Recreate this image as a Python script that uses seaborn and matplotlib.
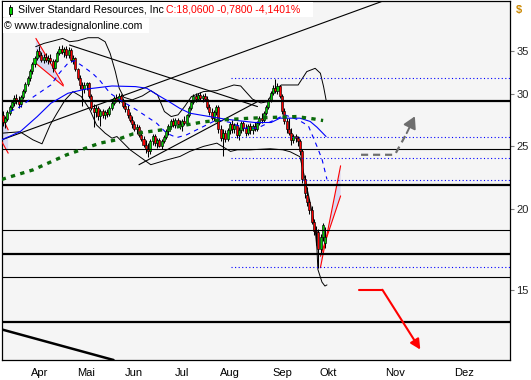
import matplotlib
matplotlib.use("Agg")
import matplotlib.pyplot as plt
import numpy as np
import seaborn as sns
from matplotlib.lines import Line2D
from matplotlib.patches import Polygon, Rectangle
from matplotlib.ticker import NullLocator
from matplotlib.transforms import blended_transform_factory

# x = bar number: 0 is 16 Mar 2011, one step per trading day up to the last bar
# (6 Oct), one step per calendar day in the projection area after it.
OPEN = [
    27.9, 27.2, 27.5, 28.1, 28.7, 29.1, 29.6, 29.3, 29.0, 29.7,
    30.4, 31.1, 31.8, 32.6, 33.4, 34.2, 35.0, 34.5, 33.9, 34.3,
    33.9, 34.2, 33.8, 33.0, 33.8, 34.8, 35.3, 34.9, 35.2, 34.5,
    35.1, 33.9, 34.2, 32.8, 31.8, 31.0, 30.6, 31.0, 31.2, 29.8,
    28.6, 28.2, 28.6, 27.8, 28.3, 27.9, 28.2, 28.0, 28.6, 29.1,
    29.6, 29.4, 29.8, 29.4, 28.8, 28.5, 27.9, 27.4, 27.0, 26.5,
    26.7, 26.0, 25.6, 25.1, 24.7, 24.5, 25.4, 25.9, 25.2, 25.5,
    25.0, 25.4, 25.8, 26.3, 26.8, 27.3, 26.9, 27.4, 27.0, 26.8,
    27.3, 27.1, 27.9, 28.6, 29.2, 29.8, 29.5, 29.9, 29.6, 29.8,
    29.5, 28.7, 28.2, 27.6, 28.2, 28.7, 26.5, 25.7, 26.2, 25.6,
    26.4, 27.0, 26.5, 26.9, 26.0, 26.4, 27.1, 26.6, 26.2, 26.8,
    26.4, 26.8, 26.5, 27.1, 27.6, 27.4, 28.1, 28.7, 29.4, 30.2,
    30.7, 30.4, 30.9, 29.8, 28.3, 27.3, 26.5, 26.2, 25.5, 25.9,
    25.7, 25.4, 24.5, 22.2, 21.0, 20.5, 19.9, 19.1, 18.5, 18.4,
    17.3, 18.1, 17.7,
]
HIGH = [
    28.3, 27.8, 28.4, 28.9, 29.4, 29.9, 30.0, 29.8, 29.9, 30.6,
    31.3, 32.0, 32.8, 33.6, 34.4, 35.3, 35.6, 34.9, 34.6, 34.8,
    34.5, 34.6, 34.0, 34.0, 35.0, 35.6, 35.7, 35.5, 35.6, 35.5,
    35.4, 34.5, 34.3, 33.0, 32.1, 31.4, 31.3, 31.4, 31.3, 30.0,
    29.0, 28.9, 28.8, 28.5, 28.5, 28.4, 28.5, 28.8, 29.3, 29.8,
    30.0, 30.1, 30.0, 29.6, 29.2, 28.9, 28.2, 27.8, 27.3, 27.0,
    26.9, 26.4, 25.9, 25.5, 25.2, 25.6, 26.1, 26.1, 25.7, 25.7,
    25.6, 26.0, 26.5, 27.0, 27.5, 27.6, 27.6, 27.6, 27.4, 27.5,
    27.8, 28.0, 28.8, 29.4, 30.0, 30.2, 30.1, 30.3, 30.0, 30.1,
    29.8, 29.0, 28.6, 28.4, 28.9, 28.9, 26.9, 26.5, 26.4, 26.6,
    27.2, 27.4, 27.1, 27.2, 26.7, 27.3, 27.3, 27.0, 27.0, 27.1,
    27.0, 27.2, 27.3, 27.8, 28.1, 28.3, 28.9, 29.6, 30.4, 31.0,
    31.7, 31.2, 31.0, 30.0, 28.6, 27.6, 27.6, 26.6, 26.1, 26.1,
    25.9, 25.6, 24.7, 22.5, 21.6, 20.7, 20.2, 19.3, 18.8, 18.6,
    18.3, 19.0, 18.7,
]
LOW = [
    26.8, 26.6, 27.3, 27.9, 28.4, 28.8, 29.0, 28.6, 28.7, 29.5,
    30.2, 30.9, 31.5, 32.3, 33.1, 33.9, 34.3, 33.6, 33.5, 33.7,
    33.4, 33.5, 32.5, 32.8, 33.6, 34.5, 34.6, 34.3, 34.2, 34.2,
    33.6, 33.4, 32.6, 31.6, 30.6, 28.8, 30.2, 30.5, 29.6, 28.4,
    26.7, 27.7, 27.4, 26.8, 27.6, 27.5, 27.7, 27.8, 28.4, 28.9,
    29.2, 29.1, 29.2, 28.6, 28.2, 27.6, 27.2, 26.6, 26.3, 26.1,
    25.8, 25.4, 24.9, 24.4, 24.0, 24.3, 25.1, 25.0, 24.8, 24.9,
    24.7, 25.2, 25.6, 26.0, 26.6, 26.7, 26.6, 26.7, 26.5, 26.3,
    26.9, 27.0, 27.7, 28.4, 29.0, 29.2, 29.3, 29.4, 29.2, 29.3,
    28.5, 27.9, 27.4, 27.3, 27.9, 26.2, 25.4, 24.1, 25.3, 25.4,
    26.1, 26.2, 26.2, 25.7, 25.5, 26.2, 26.3, 25.9, 26.0, 26.1,
    26.1, 26.3, 26.3, 26.9, 27.1, 27.2, 27.9, 28.5, 29.2, 29.9,
    30.2, 30.0, 29.6, 28.0, 27.0, 26.2, 26.0, 25.1, 25.2, 25.3,
    25.0, 24.2, 21.9, 20.8, 20.2, 19.6, 18.9, 18.2, 17.6, 16.2,
    17.0, 17.8, 17.4,
]
CLOSE = [
    27.2, 27.6, 28.2, 28.7, 29.2, 29.6, 29.3, 29.0, 29.7, 30.4,
    31.1, 31.8, 32.6, 33.4, 34.2, 35.0, 34.5, 33.9, 34.3, 33.9,
    34.2, 33.8, 33.0, 33.8, 34.8, 35.3, 34.9, 35.2, 34.5, 35.1,
    33.9, 34.2, 32.8, 31.8, 31.0, 30.6, 31.0, 31.2, 29.8, 28.6,
    28.2, 28.6, 27.8, 28.3, 27.9, 28.2, 28.0, 28.6, 29.1, 29.6,
    29.4, 29.8, 29.4, 28.8, 28.5, 27.9, 27.4, 27.0, 26.5, 26.7,
    26.0, 25.6, 25.1, 24.7, 24.5, 25.4, 25.9, 25.2, 25.5, 25.0,
    25.4, 25.8, 26.3, 26.8, 27.3, 26.9, 27.4, 27.0, 26.8, 27.3,
    27.1, 27.9, 28.6, 29.2, 29.8, 29.5, 29.9, 29.6, 29.8, 29.5,
    28.7, 28.2, 27.6, 28.2, 28.7, 26.5, 25.7, 26.2, 25.6, 26.4,
    27.0, 26.5, 26.9, 26.0, 26.4, 27.1, 26.6, 26.2, 26.8, 26.4,
    26.8, 26.5, 27.1, 27.6, 27.4, 28.1, 28.7, 29.4, 30.2, 30.7,
    30.4, 30.9, 29.8, 28.3, 27.3, 26.5, 26.2, 25.5, 25.9, 25.7,
    25.4, 24.5, 22.2, 21.1, 20.5, 19.9, 19.1, 18.5, 18.4, 17.3,
    18.1, 18.84, 18.06,
]

# moving averages (bar number, price)
MA_SLOW_X = [-0.45, 7.8, 15.2, 21.2, 28.7, 36.1, 48.1, 58.5, 63.4, 68.2, 73.7, 77.9,
             82.4, 88.4, 97.3, 103.3, 111.0, 118.2, 122.1, 130.9, 135.4, 138.4, 142.4]
MA_SLOW_Y = [25.53, 26.30, 27.73, 29.07, 30.12, 30.55, 30.91, 30.84, 30.66, 29.94, 29.17, 28.56,
             28.06, 27.83, 27.50, 27.34, 27.15, 27.15, 27.57, 27.57, 27.25, 26.70, 25.83]
MA_FAST_X = [3.3, 7.8, 13.7, 21.2, 24.9, 28.7, 31.6, 35.5, 39.8, 42.8, 47.3, 51.6, 58.9,
             63.4, 67.8, 72.2, 76.6, 81.0, 88.4, 94.3, 100.3, 106.3, 112.2, 118.2, 124.2,
             130.1, 134.6, 138.4, 140.6, 142.8]
MA_FAST_Y = [28.23, 28.73, 29.77, 31.02, 32.34, 33.50, 33.82, 33.11, 32.27, 31.51, 30.12, 29.42, 28.40,
             27.73, 27.08, 26.14, 25.73, 25.99, 26.77, 27.41, 27.15, 26.61, 26.61, 27.25, 27.90,
             27.41, 26.83, 24.94, 23.84, 22.18]
MA_LONG_X = [-0.45, 13.4, 28.2, 42.8, 50.1, 57.5, 64.9, 72.2, 81.0, 88.4, 97.2, 109.0,
             122.1, 129.4, 136.9, 141.1]
MA_LONG_Y = [22.18, 22.95, 24.21, 25.23, 25.53, 26.08, 26.30, 26.51, 26.92, 27.21, 27.41, 27.57,
             27.67, 27.73, 27.50, 27.34]

# envelope bands
BAND_UP_X = [14.5, 18.2, 22.7, 26.4, 29.4, 33.1, 37.6, 42.1, 45.1, 47.3, 49.6, 51.3, 53.3,
             57.0, 61.5, 65.2, 68.2, 71.2, 74.2, 77.2, 80.1, 83.1, 88.4, 94.3, 101.8, 104.8,
             107.0, 110.0, 113.7, 116.7, 119.0, 122.7, 130.1, 133.9, 137.6, 139.9, 141.3, 142.4]
BAND_UP_Y = [35.54, 35.96, 36.30, 36.60, 36.17, 36.30, 36.69, 36.69, 36.17, 34.71, 32.53, 30.66, 29.70,
             29.42, 29.84, 30.41, 29.94, 28.23, 27.73, 27.90, 28.73, 29.77, 30.30, 30.41, 31.02, 30.91,
             30.30, 29.50, 29.10, 29.24, 30.30, 31.02, 31.02, 32.53, 32.91, 32.34, 30.84, 29.42]
BAND_LO_X = [-0.45, 7.6, 13.3, 17.3, 20.9, 23.9, 27.5, 30.9, 34.6, 38.4, 41.3, 45.1, 48.1,
             50.3, 56.1, 61.8, 65.2, 71.5, 78.1, 82.4, 88.4, 94.3, 100.3, 103.3, 109.0, 117.8,
             123.4, 126.6, 130.9, 132.2, 135.4, 137.5, 138.4, 138.8, 140.6, 141.9, 142.8]
BAND_LO_Y = [26.14, 26.27, 25.53, 25.17, 26.92, 28.06, 29.42, 30.30, 29.77, 28.40, 26.92, 26.14, 25.68,
             25.83, 24.64, 23.84, 23.37, 23.73, 24.07, 24.50, 24.94, 25.23, 24.50, 24.64, 24.64, 24.73,
             24.64, 24.47, 24.04, 22.95, 20.41, 18.77, 17.28, 16.11, 15.40, 15.19, 15.25]

# drawn levels
THICK_LEVELS = [29.35, 21.71, 17.04, 13.36]
THIN_LEVELS = [24.70, 18.55, 15.70]
DOTTED_LEVELS = [31.77, 25.80, 23.93, 22.15, 16.25]
DOTTED_START = 100.7

# trend lines (x pair, price pair)
TRENDLINES = [
    ([-0.45, 166.7], [25.53, 41.7]),
    ([29.4, 112.2], [35.75, 28.73]),
    ([60.0, 112.2], [23.37, 29.24]),
]
BOTTOM_LINE = ([-0.45, 48.8], [13.02, 11.68])

# red channels: (start/end x, line 1 prices, line 2 prices)
CHANNELS = [
    ([-0.45, 2.4], [27.73, 26.45], [25.38, 24.35]),
    ([14.6, 26.7], [36.60, 31.02], [33.50, 30.91]),
    ([139.9, 148.8], [16.21, 23.28], [16.88, 20.92]),
]

# projections
UP_PATH_X = [157.8, 172.7, 177.9]
UP_PATH_Y = [24.21, 24.21, 26.14]
UP_TIP = (181.5, 27.75)
DOWN_PATH_X = [156.7, 167.2]
DOWN_PATH_Y = [14.99, 14.99]
DOWN_TIP = (183.9, 12.12)

MONTH_TICKS = [12, 32, 53, 75, 95, 118, 139, 168, 198]
MONTH_LABELS = ["Apr", "Mai", "Jun", "Jul", "Aug", "Sep", "Okt", "Nov", "Dez"]
PRICE_TICKS = [15, 20, 25, 30, 35]

TITLE = "Silver Standard Resources, Inc"
QUOTE = "C:18,0600 -0,7800 -4,1401%"
SOURCE = "\u00a9 www.tradesignalonline.com"

sns.set_style("white")
plt.rcParams["font.family"] = ["Liberation Sans", "DejaVu Sans"]

W, H = 531, 380
fig = plt.figure(figsize=(W / 100, H / 100), dpi=100)
ax = fig.add_axes([1.7 / W, 20 / H, 508.3 / W, 359 / H])
ax.set_facecolor("#f5f5f5")
ax.set_yscale("log")

GREEN = "#00d000"
RED = "#ff0000"

# horizontal levels
for lvl in THICK_LEVELS:
    ax.axhline(lvl, color="black", lw=1.6, zorder=5)
for lvl in THIN_LEVELS:
    ax.axhline(lvl, color="black", lw=0.8, zorder=5)
ax.hlines(DOTTED_LEVELS, DOTTED_START, 223.4, colors="#0000ff", lw=0.8,
          linestyles=[(0, (1, 2.2))], zorder=5)

# trend lines
for xs, ys in TRENDLINES:
    ax.plot(xs, ys, color="black", lw=0.8, zorder=3)
ax.plot(BOTTOM_LINE[0], BOTTOM_LINE[1], color="black", lw=1.8, zorder=3)

# red channels with shading
for xs, l1, l2 in CHANNELS:
    ax.add_patch(Polygon([(xs[0], l1[0]), (xs[1], l1[1]), (xs[1], l2[1]), (xs[0], l2[0])],
                         closed=True, facecolor="#d9d9f2", edgecolor="none", zorder=1.5))
    ax.plot(xs, l1, color=RED, lw=0.8, zorder=3)
    ax.plot(xs, l2, color=RED, lw=0.8, zorder=3)

# envelope and averages
sns.lineplot(x=BAND_UP_X, y=BAND_UP_Y, ax=ax, sort=False, estimator=None,
             color="black", lw=0.7, zorder=3)
sns.lineplot(x=BAND_LO_X, y=BAND_LO_Y, ax=ax, sort=False, estimator=None,
             color="black", lw=0.7, zorder=3)
sns.lineplot(x=MA_SLOW_X, y=MA_SLOW_Y, ax=ax, sort=False, estimator=None,
             color="#0000ff", lw=0.8, zorder=6)
sns.lineplot(x=MA_FAST_X, y=MA_FAST_Y, ax=ax, sort=False, estimator=None,
             color="#0000ff", lw=0.8, linestyle=(0, (4, 4)), zorder=6)
sns.lineplot(x=MA_LONG_X, y=MA_LONG_Y, ax=ax, sort=False, estimator=None,
             color="#0b6b0b", lw=2.4, linestyle=(0, (1.3, 1.6)), zorder=6)

# candles
idx = np.arange(len(CLOSE))
o = np.array(OPEN)
c = np.array(CLOSE)
colors = np.where(c >= o, GREEN, RED)
ax.vlines(idx, LOW, HIGH, color="black", lw=0.75, zorder=4)
ax.bar(idx, np.maximum(np.abs(c - o), 0.05), bottom=np.minimum(o, c), width=0.9,
       color=colors, edgecolor="black", linewidth=0.45, zorder=4.5)

# projection arrows
ax.plot(UP_PATH_X, UP_PATH_Y, color="#6e6e6e", lw=1.6, dashes=(3.2, 2.2), zorder=6)
ax.annotate("", xy=UP_TIP, xytext=(UP_PATH_X[-1], UP_PATH_Y[-1]),
            arrowprops=dict(arrowstyle="-|>,head_length=0.7,head_width=0.4",
                            color="#6e6e6e", lw=1.4, shrinkA=0, shrinkB=0), zorder=6)
ax.plot(DOWN_PATH_X, DOWN_PATH_Y, color=RED, lw=1.5, zorder=6)
ax.annotate("", xy=DOWN_TIP, xytext=(DOWN_PATH_X[-1], DOWN_PATH_Y[-1]),
            arrowprops=dict(arrowstyle="-|>,head_length=0.6,head_width=0.3",
                            color=RED, lw=1.5, shrinkA=0, shrinkB=0), zorder=6)

ax.set_xlim(-0.45, 223.4)
ax.set_ylim(11.68, 41.8)
ax.set_xlabel("")
ax.set_ylabel("")

# axes styling
for s in ax.spines.values():
    s.set_color("black")
    s.set_linewidth(0.9)
ax.set_xticks(MONTH_TICKS)
ax.set_xticklabels([])
ax.tick_params(axis="x", length=4, width=0.8, direction="out", color="#444444")
trans = blended_transform_factory(ax.transData, ax.transAxes)
for pos, lab in zip(MONTH_TICKS, MONTH_LABELS):
    ax.text(pos + 0.6, -0.036, lab, transform=trans, ha="left", va="center",
            fontsize=8, color="black")
ax.yaxis.tick_right()
ax.set_yticks(PRICE_TICKS)
ax.set_yticklabels([str(t) for t in PRICE_TICKS])
ax.yaxis.set_minor_locator(NullLocator())
ax.tick_params(axis="y", length=3, width=0.8, pad=1.5, labelsize=8, color="#808080")
fig.text(516 / W, 1 - 9.5 / H, "$", color="#cc8800", fontsize=8, ha="left", va="center",
         fontweight="bold")

# header
fig.patches.append(Rectangle((3 / W, 1 - 17 / H), 310 / W, 15 / H, transform=fig.transFigure,
                             facecolor="white", edgecolor="none", zorder=1))
fig.patches.append(Rectangle((3 / W, 1 - 33 / H), 146 / W, 15 / H, transform=fig.transFigure,
                             facecolor="white", edgecolor="none", zorder=1))
fig.lines.append(Line2D([10.3 / W, 10.3 / W], [1 - 4.5 / H, 1 - 16 / H], transform=fig.transFigure,
                        color="black", lw=0.7, zorder=2))
fig.patches.append(Rectangle((8.6 / W, 1 - 13.5 / H), 3.6 / W, 6.5 / H, transform=fig.transFigure,
                             facecolor=GREEN, edgecolor="black", lw=0.6, zorder=3))
title = fig.text(17.5 / W, 1 - 10 / H, TITLE, color="black", fontsize=7.6, ha="left", va="center")
fig.canvas.draw()
x_end = title.get_window_extent().x1
fig.text((x_end + 3) / W, 1 - 10 / H, QUOTE, color=RED, fontsize=7.6, ha="left", va="center")
fig.text(4 / W, 1 - 26 / H, SOURCE, color="black", fontsize=7.6, ha="left", va="center")

fig.savefig("out.png", dpi=100)
